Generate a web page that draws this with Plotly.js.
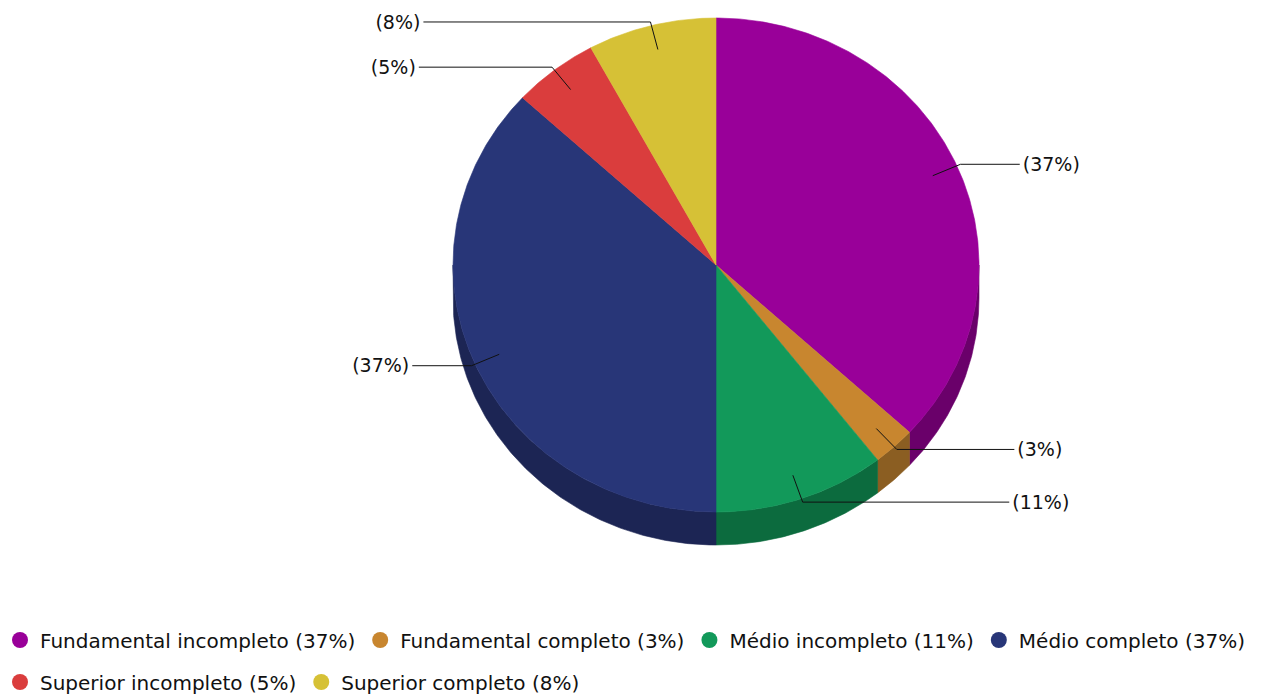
<!DOCTYPE html>
<html>
<head>
<meta charset="utf-8">
<script src="https://cdn.plot.ly/plotly-3.0.1.min.js"></script>
<style>
html,body{margin:0;padding:0;background:#fff;}
#chart{width:1274px;height:696px;}
</style>
</head>
<body>
<div id="chart"></div>
<script>
// ---- data ----
const categories = ['Fundamental incompleto', 'Fundamental completo', 'Médio incompleto', 'Médio completo', 'Superior incompleto', 'Superior completo'];
const counts = [14, 1, 4, 14, 2, 3];
const topColors = ['#990099', '#C8862F', '#12995A', '#283678', '#DA3D3D', '#D6C136'];
const sideColors = ['#6A006A', '#8B5E22', '#0C6B3E', '#1C2554', '#99292A', '#958726'];

// ---- geometry (layout constants, pixels) ----
const W = 1274, H = 696, MB = 100;   // bottom margin reserved for the legend
const cx = 716, cy = 265, rx = 263, ry = 247, depth = 33;
const FONT = 'DejaVu Sans, Verdana, sans-serif';

const total = counts.reduce((a, b) => a + b, 0);
const pctText = counts.map(v => Math.round(v / total * 100) + '%');

function pt(theta, r, off) {
  return [cx + r * rx * Math.sin(theta), cy - r * ry * Math.cos(theta) + (off || 0)];
}
function arc(a1, a2, r, off) {
  const n = Math.max(2, Math.ceil(Math.abs(a2 - a1) / (Math.PI / 360)));
  const pts = [];
  for (let i = 0; i <= n; i++) pts.push(pt(a1 + (a2 - a1) * i / n, r, off));
  return pts;
}

const sideTraces = [], topTraces = [], labelTraces = [], legendTraces = [];
let cum = 0;
counts.forEach((v, i) => {
  const a1 = cum / total * 2 * Math.PI;
  cum += v;
  const a2 = cum / total * 2 * Math.PI;
  // side (front half only)
  const s1 = Math.max(a1, Math.PI / 2), s2 = Math.min(a2, 3 * Math.PI / 2);
  if (s1 < s2) {
    const pts = arc(s1, s2, 1, 0).concat(arc(s2, s1, 1, depth));
    pts.push(pts[0]);
    sideTraces.push({
      type: 'scatter', mode: 'lines', x: pts.map(p => p[0]), y: pts.map(p => p[1]),
      fill: 'toself', fillcolor: sideColors[i], line: {color: sideColors[i], width: 0.6},
      hoverinfo: 'skip', showlegend: false
    });
  }
  // top face
  const tp = [[cx, cy]].concat(arc(a1, a2, 1, 0));
  tp.push([cx, cy]);
  topTraces.push({
    type: 'scatter', mode: 'lines', x: tp.map(p => p[0]), y: tp.map(p => p[1]),
    fill: 'toself', fillcolor: topColors[i], line: {color: topColors[i], width: 0.6},
    hoverinfo: 'skip', showlegend: false
  });
  // label connector
  const mid = (a1 + a2) / 2;
  const right = mid < Math.PI;
  const p0 = pt(mid, 0.9, 0);
  const p1 = pt(mid, 1.015, 0);
  const dy = p1[1] - cy;
  const off = 306 * Math.sqrt(Math.max(0, 1 - Math.pow(dy / 830, 2)));
  const ex = right ? cx + off : cx - off;
  labelTraces.push({
    type: 'scatter', mode: 'lines', x: [p0[0], p1[0], ex], y: [p0[1], p1[1], p1[1]],
    line: {color: '#111', width: 1}, hoverinfo: 'skip', showlegend: false
  });
  labelTraces.push({
    type: 'scatter', mode: 'text', x: [ex + (right ? 3 : -3)], y: [p1[1] + 2],
    text: ['(' + pctText[i] + ')'], textposition: right ? 'middle right' : 'middle left',
    textfont: {family: FONT, size: 19, color: '#111'},
    marker: {size: 1, opacity: 0}, hoverinfo: 'skip', showlegend: false
  });
  // legend entry
  legendTraces.push({
    type: 'scatter', mode: 'markers', x: [null], y: [null],
    name: categories[i] + ' (' + pctText[i] + ')',
    marker: {color: topColors[i], size: 20, symbol: 'circle', line: {width: 0}},
    legend: i < 4 ? 'legend' : 'legend2', hoverinfo: 'skip'
  });
});

const data = sideTraces.concat(topTraces, labelTraces, legendTraces);

const legendBase = {
  orientation: 'h', xanchor: 'left', yanchor: 'middle', x: 0, yref: 'container',
  font: {family: FONT, size: 20, color: '#111'},
  bgcolor: 'rgba(0,0,0,0)', borderwidth: 0, itemclick: false, itemdoubleclick: false,
  traceorder: 'normal'
};

const layout = {
  width: W, height: H,
  margin: {l: 0, r: 0, t: 0, b: MB, pad: 0},
  paper_bgcolor: '#fff', plot_bgcolor: '#fff',
  xaxis: {range: [0, W], visible: false, fixedrange: true},
  yaxis: {range: [H - MB, 0], visible: false, fixedrange: true},
  showlegend: true,
  legend: Object.assign({}, legendBase, {y: 1 - 640 / H}),
  legend2: Object.assign({}, legendBase, {y: 1 - 682 / H}),
  hovermode: false
};

Plotly.newPlot('chart', data, layout, {staticPlot: true, displayModeBar: false});
</script>
</body>
</html>
